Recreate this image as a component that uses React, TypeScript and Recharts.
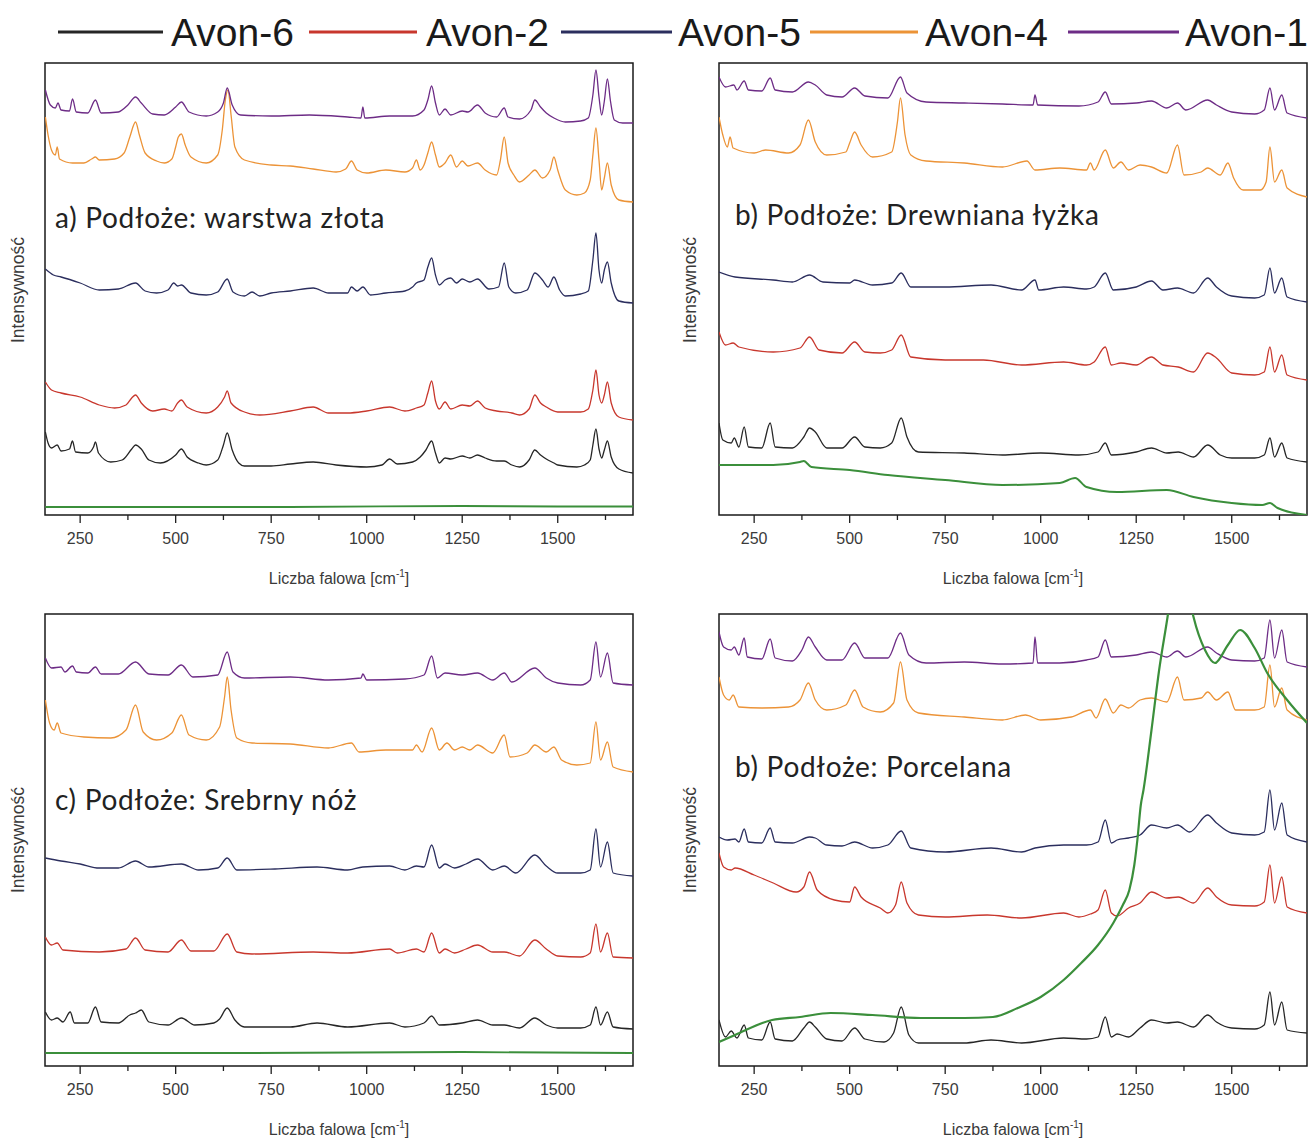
import React from "react";
import { LineChart, Line, XAxis, YAxis, ReferenceArea } from "recharts";

type Pt = [number, number];

// ---------- legend / series ----------
const SERIES_NAMES = ["Avon-6", "Avon-2", "Avon-5", "Avon-4", "Avon-1"];
const SERIES_COLORS = ["#262626", "#c8372d", "#2b2e5e", "#ec9337", "#6d2c86"];
const SUBSTRATE_COLOR = "#3b8f3b";

// ---------- axes ----------
const X_DOMAIN: [number, number] = [158, 1697];
const Y_DOMAIN: [number, number] = [0, 452];
const X_TICKS = [250, 375, 500, 625, 750, 875, 1000, 1125, 1250, 1375, 1500, 1625];
const X_LABELED = [250, 500, 750, 1000, 1250, 1500];
const X_TITLE = "Liczba falowa [cm";
const Y_TITLE = "Intensywność";
const PANEL_TITLES = [
  "a) Podłoże: warstwa złota",
  "b) Podłoże: Drewniana łyżka",
  "c) Podłoże: Srebrny nóż",
  "b) Podłoże: Porcelana",
];

// ---------- panel a: gold layer ----------
const goldAvon1: Pt[] = [[159,425],[172,410],[185,407],[192,412],[200,405],[222,404],[230,416],[240,403],[270,402],[290,415],[305,402],[350,403],[375,410],[395,418],[410,412],[440,401],[470,400],[500,408],[515,413],[535,403],[580,399],[610,403],[625,412],[635,427],[648,410],[670,400],[750,399],[850,400],[950,398],[985,397],[990,408],[995,397],[1060,399],[1120,399],[1150,405],[1160,415],[1170,429],[1180,412],[1190,400],[1205,406],[1220,400],[1250,404],[1265,403],[1290,410],[1310,402],[1340,398],[1360,407],[1370,398],[1400,396],[1430,405],[1440,415],[1455,408],[1470,402],[1490,397],[1520,393],[1560,394],[1580,397],[1592,420],[1600,445],[1608,418],[1615,400],[1622,414],[1630,436],[1638,414],[1648,395],[1670,392],[1697,392]];
const goldAvon4: Pt[] = [[159,398],[166,380],[175,365],[185,360],[190,368],[196,356],[230,352],[260,352],[280,356],[290,358],[300,355],[340,356],[365,362],[380,378],[395,393],[405,380],[420,362],[450,354],[470,352],[490,356],[500,368],[507,378],[515,381],[525,370],[540,358],[580,352],[610,360],[622,385],[630,415],[637,425],[645,400],[655,368],[680,355],[750,350],[800,349],[860,346],[920,343],[945,346],[960,354],[975,345],[1000,342],[1050,345],[1100,343],[1120,347],[1130,355],[1140,345],[1150,350],[1160,362],[1170,373],[1180,360],[1190,348],[1205,352],[1220,360],[1235,348],[1250,354],[1265,349],[1290,352],[1310,345],[1340,340],[1350,355],[1360,378],[1370,352],[1385,340],[1400,333],[1425,340],[1440,345],[1460,337],[1480,345],[1490,358],[1500,345],[1520,325],[1550,320],[1570,322],[1585,335],[1592,360],[1600,387],[1608,355],[1615,325],[1622,337],[1630,352],[1640,330],[1660,315],[1697,313]];
const goldAvon5: Pt[] = [[159,246],[180,240],[200,238],[250,232],[300,225],[350,226],[395,232],[420,224],[450,222],[480,225],[495,232],[505,229],[515,230],[540,222],[580,220],[610,223],[635,236],[650,223],[680,219],[700,223],[720,219],[750,222],[800,224],[860,227],[900,222],[950,222],[960,228],[975,224],[990,228],[1010,220],[1050,222],[1100,224],[1120,228],[1130,232],[1150,235],[1160,248],[1170,257],[1180,240],[1190,230],[1205,235],[1220,237],[1235,232],[1250,236],[1270,233],[1290,236],[1320,226],[1345,228],[1360,252],[1372,228],[1390,222],[1420,225],[1440,242],[1460,235],[1475,228],[1490,238],[1505,225],[1520,219],[1560,221],[1580,224],[1592,255],[1600,282],[1608,245],[1615,232],[1622,245],[1630,253],[1640,232],[1660,214],[1697,212]];
const goldAvon2: Pt[] = [[159,133],[175,125],[200,122],[250,118],[300,110],[340,107],[370,110],[385,117],[395,120],[410,112],[440,104],[470,106],[490,104],[505,112],[515,115],[530,108],[580,102],[610,108],[628,118],[635,124],[645,112],[680,103],[720,100],[800,104],[860,108],[900,102],[950,102],[1000,104],[1060,108],[1100,104],[1130,107],[1150,110],[1160,122],[1170,134],[1180,114],[1190,106],[1205,113],[1220,106],[1250,110],[1270,109],[1290,114],[1310,107],[1340,104],[1380,102],[1400,100],[1425,106],[1440,120],[1455,112],[1470,108],[1500,103],[1560,103],[1580,106],[1592,125],[1600,145],[1608,120],[1615,112],[1622,120],[1630,133],[1640,112],[1660,98],[1697,95]];
const goldAvon6: Pt[] = [[159,83],[166,72],[175,67],[190,70],[200,64],[222,66],[230,74],[238,63],[270,62],[285,68],[290,73],[298,62],[330,53],[360,55],[385,66],[395,70],[410,66],[430,55],[460,52],[500,60],[515,66],[530,58],[560,52],[580,50],[610,55],[625,70],[635,82],[648,65],[665,52],[680,49],[750,49],[800,51],[860,53],[920,50],[1000,48],[1040,50],[1060,56],[1080,51],[1120,53],[1140,58],[1155,65],[1170,74],[1180,62],[1190,52],[1205,57],[1220,56],[1250,59],[1270,57],[1290,60],[1310,57],[1340,54],[1360,54],[1380,50],[1400,48],[1425,55],[1440,65],[1455,60],[1470,56],[1490,52],[1500,50],[1550,48],[1570,50],[1585,55],[1592,70],[1600,86],[1608,66],[1615,57],[1622,65],[1630,74],[1640,58],[1660,46],[1697,42]];
const goldSubstrate: Pt[] = [[159,8],[800,8],[1250,9],[1500,8.5],[1697,8.5]];

// ---------- panel b: wooden spoon ----------
const woodAvon1: Pt[] = [[158,438],[175,428],[197,430],[205,425],[224,434],[235,425],[270,424],[292,437],[305,425],[350,423],[392,433],[410,430],[440,420],[480,418],[513,427],[540,419],[600,417],[633,438],[650,422],[700,413],[800,412],[900,411],[980,410],[985,420],[992,410],[1100,409],[1150,413],[1169,423],[1185,411],[1250,412],[1290,414],[1330,407],[1358,412],[1380,405],[1437,415],[1460,410],[1500,403],[1560,401],[1585,405],[1600,427],[1612,405],[1631,420],[1645,402],[1697,397]];
const woodAvon4: Pt[] = [[158,398],[168,380],[180,368],[187,378],[195,367],[250,362],[280,365],[340,362],[370,370],[392,395],[410,373],[440,360],[490,363],[500,372],[513,383],[530,370],[560,358],[610,363],[625,393],[633,417],[645,380],[660,360],[700,354],[800,352],[900,348],[964,354],[985,345],[1050,347],[1120,345],[1130,352],[1140,345],[1169,365],[1190,347],[1210,353],[1230,345],[1260,350],[1290,348],[1330,342],[1358,370],[1375,340],[1420,343],[1437,347],[1470,340],[1490,352],[1505,337],[1530,325],[1575,325],[1590,333],[1600,368],[1612,333],[1631,345],[1645,327],[1697,318]];
const woodAvon5: Pt[] = [[158,243],[200,238],[300,235],[350,233],[395,240],[430,233],[500,232],[513,235],[560,230],[610,232],[635,242],[660,228],[750,228],[870,230],[950,225],[985,235],[995,225],[1060,228],[1120,226],[1140,228],[1169,242],[1190,225],[1250,228],[1290,234],[1320,225],[1358,227],[1400,222],[1437,237],[1460,228],[1500,219],[1560,217],[1585,220],[1600,247],[1612,222],[1631,237],[1645,218],[1697,213]];
const woodAvon2: Pt[] = [[158,183],[175,170],[195,172],[210,168],[300,163],[370,167],[395,178],[420,165],[480,162],[513,173],[540,163],[580,162],[610,165],[635,180],[660,158],[750,155],[850,155],[950,150],[1060,153],[1120,150],[1140,153],[1169,168],[1185,150],[1210,152],[1250,150],[1290,158],[1320,150],[1360,148],[1400,143],[1437,162],[1460,157],[1500,142],[1560,140],[1585,143],[1600,168],[1612,143],[1631,160],[1645,140],[1697,135]];
const woodAvon6: Pt[] = [[158,92],[168,75],[190,72],[198,77],[210,68],[224,88],[235,68],[270,67],[292,92],[305,68],[350,67],[380,78],[395,87],[410,83],[440,67],[480,67],[513,78],[540,68],[580,67],[610,72],[635,97],[650,78],[680,63],[800,62],[900,60],[1000,62],[1100,60],[1150,63],[1169,72],[1185,60],[1250,63],[1290,67],[1330,62],[1360,63],[1400,58],[1437,70],[1470,60],[1500,57],[1560,57],[1585,60],[1600,77],[1612,58],[1631,72],[1645,57],[1697,53]];
const woodSubstrate: Pt[] = [[158,50],[300,50],[370,53],[380,54],[400,48],[500,45],[600,40],[750,35],[900,30],[1050,32],[1090,37],[1120,28],[1200,23],[1330,25],[1400,18],[1500,12],[1580,10],[1600,12],[1620,7],[1697,0]];

// ---------- panel c: silver knife ----------
const silverAvon1: Pt[] = [[159,408],[175,398],[200,399],[210,394],[230,400],[240,394],[270,393],[290,399],[305,392],[350,392],[395,404],[430,392],[480,391],[515,401],[545,389],[610,391],[635,414],[650,394],[680,388],[800,389],[900,386],[985,388],[990,392],[1000,386],[1100,387],[1150,391],[1170,410],[1185,388],[1205,393],[1250,391],[1290,393],[1330,386],[1360,393],[1380,384],[1440,398],[1470,388],[1500,383],[1560,381],[1585,386],[1600,424],[1612,389],[1630,413],[1645,383],[1697,381]];
const silverAvon4: Pt[] = [[159,366],[170,343],[182,336],[190,343],[200,333],[260,329],[330,328],[370,336],[395,361],[415,334],[450,326],[490,333],[515,351],[535,331],[580,326],[615,339],[628,369],[635,389],[645,356],[660,328],[700,323],[800,322],[900,318],[960,323],[980,314],[1050,316],[1120,316],[1130,321],[1145,314],[1170,338],[1190,316],[1210,323],[1230,316],[1250,319],[1270,316],[1290,321],[1330,313],[1360,331],[1375,309],[1420,313],[1440,321],[1470,314],[1490,319],[1510,306],[1550,301],[1585,303],[1600,344],[1612,306],[1630,324],[1645,299],[1697,294]];
const silverAvon5: Pt[] = [[159,208],[200,205],[250,202],[300,198],[350,198],[395,205],[430,199],[515,202],[560,196],[610,198],[635,208],[660,196],[760,197],[870,199],[950,196],[990,199],[1060,200],[1100,196],[1130,200],[1150,199],[1170,221],[1190,198],[1205,202],[1230,198],[1260,202],[1290,207],[1330,196],[1360,200],[1390,193],[1440,211],[1470,200],[1500,193],[1560,193],[1585,196],[1600,237],[1612,199],[1630,224],[1645,193],[1697,190]];
const silverAvon2: Pt[] = [[159,129],[175,121],[190,123],[205,116],[300,114],[370,117],[395,128],[420,116],[480,114],[515,126],[540,115],[600,115],[635,132],[660,114],[700,112],[860,114],[950,113],[1060,117],[1080,113],[1130,117],[1150,114],[1170,133],[1190,113],[1205,117],[1230,113],[1260,117],[1290,121],[1330,114],[1360,114],[1400,110],[1440,126],[1470,117],[1500,110],[1560,109],[1585,113],[1600,142],[1612,114],[1630,133],[1645,109],[1697,108]];
const silverAvon6: Pt[] = [[159,54],[175,46],[190,48],[205,44],[224,54],[235,43],[270,43],[290,59],[305,44],[350,43],[380,51],[395,53],[410,56],[430,44],[480,41],[515,48],[550,41],[600,43],[615,47],[635,58],[655,46],[680,39],[800,39],[870,43],[950,39],[1060,43],[1100,39],[1150,43],[1170,50],[1190,41],[1250,43],[1290,46],[1330,41],[1360,41],[1400,38],[1440,48],[1470,41],[1500,38],[1560,38],[1585,41],[1600,59],[1612,41],[1630,54],[1645,39],[1697,37]];
const silverSubstrate: Pt[] = [[159,13],[700,13],[1250,14],[1697,13]];

// ---------- panel d: porcelain ----------
const porcAvon1: Pt[] = [[158,434],[170,419],[190,416],[198,419],[210,411],[224,428],[232,409],[270,407],[292,427],[305,408],[350,405],[375,416],[392,429],[410,419],[440,406],[480,406],[513,423],[540,408],[600,408],[633,433],[655,411],[700,403],[800,404],[900,402],[980,403],[985,429],[992,403],[1050,403],[1120,406],[1150,409],[1169,426],[1185,409],[1250,411],[1290,414],[1330,409],[1358,415],[1380,409],[1437,419],[1460,413],[1500,406],[1560,405],[1585,408],[1600,446],[1612,408],[1631,436],[1645,404],[1697,399]];
const porcAvon4: Pt[] = [[158,389],[170,371],[185,366],[195,371],[210,359],[270,358],[340,359],[370,366],[392,383],[410,366],[440,356],[490,361],[513,376],[535,359],[580,354],[615,363],[633,404],[650,366],[680,353],[800,349],[900,346],[960,351],[1000,346],[1080,349],[1130,356],[1145,348],[1169,367],[1190,353],[1210,361],[1230,358],[1260,366],[1290,368],[1330,364],[1358,389],[1375,366],[1420,368],[1437,374],[1460,366],[1490,374],[1510,356],[1560,356],[1585,359],[1600,401],[1612,359],[1631,378],[1645,356],[1697,346]];
const porcAvon5: Pt[] = [[158,229],[180,226],[200,227],[210,224],[224,237],[235,224],[270,223],[292,238],[305,224],[350,223],[395,229],[410,228],[440,221],[480,220],[513,224],[560,218],[600,221],[635,235],[660,218],[750,214],[870,218],[950,214],[985,218],[1060,221],[1120,221],[1150,224],[1169,246],[1185,223],[1200,226],[1230,228],[1260,231],[1290,241],[1330,238],[1358,241],[1390,234],[1437,251],[1460,243],[1500,233],[1560,231],[1585,234],[1600,276],[1612,236],[1631,263],[1645,231],[1697,224]];
const porcAvon2: Pt[] = [[158,213],[170,199],[190,196],[200,198],[250,191],[300,183],[360,174],[380,179],[395,194],[415,176],[460,166],[500,164],[513,179],[530,169],[580,158],[600,153],[620,161],[635,184],[650,163],[680,151],[750,149],[860,151],[950,148],[1060,153],[1100,149],[1130,152],[1150,156],[1169,176],[1185,153],[1200,150],[1230,158],[1260,163],[1290,174],[1330,168],[1360,169],[1400,163],[1437,178],[1460,169],[1500,161],[1560,160],[1585,164],[1600,201],[1612,163],[1631,189],[1645,159],[1697,153]];
const porcAvon6: Pt[] = [[158,46],[175,29],[190,35],[205,28],[224,41],[235,28],[270,26],[292,44],[305,27],[350,25],[380,38],[395,44],[410,39],[440,27],[480,25],[513,38],[540,27],[590,24],[615,33],[635,59],[655,31],[680,23],[800,23],[870,26],[950,23],[1060,28],[1120,27],[1150,29],[1169,49],[1185,29],[1200,32],[1230,29],[1260,38],[1290,46],[1330,43],[1358,44],[1400,39],[1437,51],[1460,44],[1500,38],[1560,37],[1585,41],[1600,74],[1612,41],[1631,64],[1645,36],[1697,33]];
const porcSubstrate: Pt[] = [[158,24],[200,31],[297,46],[370,49],[450,53],[560,51],[686,48],[800,48],[875,49],[940,58],[1000,69],[1060,86],[1106,103],[1150,121],[1190,143],[1215,161],[1232,176],[1245,201],[1253,226],[1262,261],[1269,276],[1290,336],[1310,396],[1332,449],[1350,496],[1370,506],[1390,466],[1400,449],[1430,416],[1456,403],[1490,421],[1522,436],[1560,418],[1593,393],[1645,366],[1697,343]];

// ---------- layout of the four panels ----------
type PanelCfg = {
  title: string;
  left: number;
  top: number;
  width: number;
  right: number;
  series: Pt[][];
  substrate: Pt[];
  substrateWidth: number;
};

const PANELS: PanelCfg[] = [
  { title: PANEL_TITLES[0], left: 0, top: 0, width: 660, right: 27, series: [goldAvon6, goldAvon2, goldAvon5, goldAvon4, goldAvon1], substrate: goldSubstrate, substrateWidth: 1.8 },
  { title: PANEL_TITLES[1], left: 674, top: 0, width: 635, right: 2, series: [woodAvon6, woodAvon2, woodAvon5, woodAvon4, woodAvon1], substrate: woodSubstrate, substrateWidth: 2 },
  { title: PANEL_TITLES[2], left: 0, top: 551, width: 660, right: 27, series: [silverAvon6, silverAvon2, silverAvon5, silverAvon4, silverAvon1], substrate: silverSubstrate, substrateWidth: 1.8 },
  { title: PANEL_TITLES[3], left: 674, top: 551, width: 635, right: 2, series: [porcAvon6, porcAvon2, porcAvon5, porcAvon4, porcAvon1], substrate: porcSubstrate, substrateWidth: 2.2 },
];

const toRows = (pts: Pt[]) => pts.map(([x, y]) => ({ x, y }));

const AXIS_FONT = "'Liberation Sans', Arial, sans-serif";

const AxisTick = (props: any) => {
  const { x, y, payload } = props;
  const major = X_LABELED.includes(payload.value);
  return (
    <g>
      <line x1={x} x2={x} y1={y} y2={y + (major ? 8 : 5)} stroke="#1f1f1f" strokeWidth={1.3} />
      {major && (
        <text x={x} y={y + 29} textAnchor="middle" fontSize={16} fill="#3a3a3a" fontFamily={AXIS_FONT}>
          {payload.value}
        </text>
      )}
    </g>
  );
};

const XTitle = (props: any) => {
  const vb = props.viewBox || {};
  const cx = vb.x + vb.width / 2;
  const by = vb.y + 69;
  return (
    <text x={cx} y={by} textAnchor="middle" fontSize={16} fill="#3a3a3a" fontFamily={AXIS_FONT}>
      {X_TITLE}
      <tspan dy={-7} fontSize={10}>-1</tspan>
      <tspan dy={7}>]</tspan>
    </text>
  );
};

function Panel({ cfg }: { cfg: PanelCfg }) {
  return (
    <div style={{ position: "absolute", left: cfg.left, top: cfg.top }}>
      <LineChart width={cfg.width} height={588} margin={{ top: 63, right: cfg.right, bottom: 0, left: 45 }}>
        <XAxis
          dataKey="x"
          type="number"
          domain={X_DOMAIN}
          allowDataOverflow
          ticks={X_TICKS}
          interval={0}
          tick={<AxisTick />}
          tickSize={0}
          tickMargin={0}
          tickLine={false}
          axisLine={false}
          height={73}
          label={XTitle}
        />
        <YAxis type="number" domain={Y_DOMAIN} allowDataOverflow width={0} tick={false} tickLine={false} axisLine={false} />
        {cfg.series.map((pts, i) => (
          <Line
            key={SERIES_NAMES[i]}
            data={toRows(pts)}
            dataKey="y"
            name={SERIES_NAMES[i]}
            type="monotone"
            stroke={SERIES_COLORS[i]}
            strokeWidth={1.3}
            dot={false}
            activeDot={false}
            isAnimationActive={false}
          />
        ))}
        <Line
          data={toRows(cfg.substrate)}
          dataKey="y"
          name="substrate"
          type="monotone"
          stroke={SUBSTRATE_COLOR}
          strokeWidth={cfg.substrateWidth}
          dot={false}
          activeDot={false}
          isAnimationActive={false}
        />
        <ReferenceArea
          x1={X_DOMAIN[0]}
          x2={X_DOMAIN[1]}
          y1={Y_DOMAIN[0]}
          y2={Y_DOMAIN[1]}
          fill="none"
          stroke="#1a1a1a"
          strokeWidth={1.5}
          ifOverflow="visible"
        />
      </LineChart>
    </div>
  );
}

const LEGEND_LINES: [number, number, number][] = [
  [58, 163, 171],
  [309, 417, 426],
  [561, 672, 678],
  [810, 918, 925],
  [1068, 1179, 1185],
];

const TITLE_POS: [number, number][] = [
  [55, 228],
  [735, 225],
  [55, 810],
  [735, 777],
];

const Y_TITLE_POS: [number, number][] = [
  [18, 290],
  [690, 290],
  [18, 840],
  [690, 840],
];

export default function App() {
  return (
    <div style={{ position: "absolute", left: 0, top: 0, width: 1309, height: 1139, overflow: "hidden", background: "#fff" }}>
      {PANELS.map((p, i) => (
        <Panel key={i} cfg={p} />
      ))}
      <svg width={1309} height={1139} style={{ position: "absolute", left: 0, top: 0, pointerEvents: "none" }}>
        {LEGEND_LINES.map(([x1, x2, tx], i) => (
          <g key={i}>
            <line x1={x1} x2={x2} y1={32} y2={32} stroke={SERIES_COLORS[i]} strokeWidth={3} />
            <text x={tx} y={46} fontSize={39} fill="#1a1a1a" fontFamily={AXIS_FONT}>
              {SERIES_NAMES[i]}
            </text>
          </g>
        ))}
        {PANELS.map((p, i) => (
          <text key={i} x={TITLE_POS[i][0]} y={TITLE_POS[i][1]} fontSize={28} letterSpacing={0.7} fill="#222" fontFamily="Lato, 'Noto Sans', sans-serif">
            {p.title}
          </text>
        ))}
        {Y_TITLE_POS.map(([x, y], i) => (
          <text key={i} x={x} y={y} transform={`rotate(-90, ${x}, ${y})`} textAnchor="middle" dominantBaseline="central" fontSize={17.5} fill="#3a3a3a" fontFamily={AXIS_FONT}>
            {Y_TITLE}
          </text>
        ))}
      </svg>
    </div>
  );
}
